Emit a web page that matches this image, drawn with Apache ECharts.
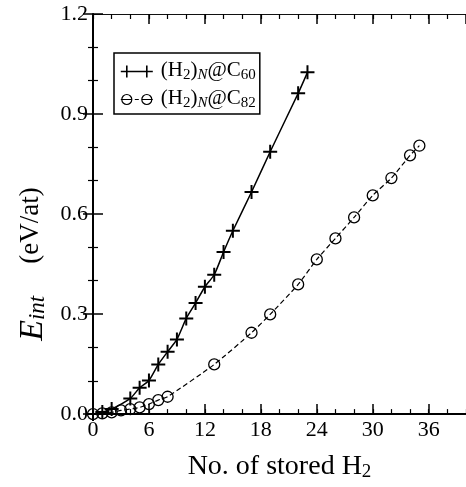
<!DOCTYPE html>
<html>
<head>
<meta charset="utf-8">
<script src="https://cdn.jsdelivr.net/npm/echarts@6/dist/echarts.min.js"></script>
<style>
html,body{margin:0;padding:0;background:#fff;}
#c{width:466px;height:487px;}
</style>
</head>
<body>
<div id="c"></div>
<script>
// ---- data ----
const xC60 = [0, 1, 2, 4, 5, 6, 7, 8, 9, 10, 11, 12, 13, 14, 15, 17, 19, 22, 23];
const yC60 = [0, 0.006, 0.015, 0.047, 0.079, 0.101, 0.149, 0.187, 0.224, 0.287, 0.333, 0.382, 0.418, 0.486, 0.550, 0.666, 0.787, 0.962, 1.025];
const xC82 = [0, 1, 2, 3, 4, 5, 6, 7, 8, 13, 17, 19, 22, 24, 26, 28, 30, 32, 34, 35];
const yC82 = [0, 0.002, 0.005, 0.011, 0.015, 0.020, 0.030, 0.042, 0.052, 0.149, 0.244, 0.299, 0.389, 0.464, 0.527, 0.590, 0.656, 0.708, 0.776, 0.805];
const seriesNames = ['C60', 'C82'];
const xTicks = [0, 6, 12, 18, 24, 30, 36];
const yTicks = [0.0, 0.3, 0.6, 0.9, 1.2];

const FONT = 'Liberation Serif';
const chart = echarts.init(document.getElementById('c'), null, {renderer: 'canvas'});

const pairs = (xs, ys) => xs.map((x, i) => [x, ys[i]]);
const PLUS = 'path://M0,7L14,7M7,0L7,14';
const ICON_C60 = 'path://M0,6L32,6M6,0L6,12M26,0L26,12';
const ICON_C82 = 'path://M1,6A5,5 0 1 1 11,6A5,5 0 1 1 1,6M21,6A5,5 0 1 1 31,6A5,5 0 1 1 21,6M0,6L11,6M14,6L18,6M21,6L32,6';

const axisBase = {type: 'value', min: 0, max: 40, splitLine: {show: false}};

const legendRich = {
  b: {fontFamily: FONT, fontSize: 21, color: '#000', verticalAlign: 'top', lineHeight: 23},
  s: {fontFamily: FONT, fontSize: 15, color: '#000', verticalAlign: 'bottom', lineHeight: 15, padding: [11, 0, 0, 0]},
  si: {fontFamily: FONT, fontSize: 15, fontStyle: 'italic', color: '#000', verticalAlign: 'bottom', lineHeight: 15, padding: [11, 0, 0, 0]},
  p: {fontFamily: FONT, fontSize: 21, color: '#000', verticalAlign: 'top', lineHeight: 23, padding: [0, 0, 0, 3]}
};

chart.setOption({
  animation: false,
  backgroundColor: '#fff',
  grid: {left: 93, top: 14, width: 375, height: 413, containLabel: false},
  legend: {
    orient: 'vertical', left: 114, top: 53,
    data: [
      {name: seriesNames[0], icon: ICON_C60, itemStyle: {color: 'rgba(0,0,0,0)', borderColor: '#000', borderWidth: 1.6}},
      {name: seriesNames[1], icon: ICON_C82, itemStyle: {color: 'rgba(0,0,0,0)', borderColor: '#000', borderWidth: 1.2}}
    ],
    itemWidth: 32, itemHeight: 12, itemGap: 2,
    borderColor: '#000', borderWidth: 1.5, borderRadius: 0,
    padding: [4, 4, 3, 6],
    formatter: function (name) {
      return '{p|(H}{s|2}{b|)}{si|N}{b|@C}{s|' + name.slice(1) + '}';
    },
    textStyle: {rich: legendRich}
  },
  xAxis: [
    Object.assign({}, axisBase, {
      position: 'bottom', interval: 6,
      axisLine: {show: true, lineStyle: {color: '#000', width: 2}},
      axisTick: {show: true, inside: true, length: 10, lineStyle: {color: '#000', width: 1.5}},
      axisLabel: {show: true, fontFamily: FONT, fontSize: 22, color: '#000', margin: 5, showMaxLabel: false,
        formatter: v => (xTicks.indexOf(v) >= 0 ? String(v) : '')},
      name: '{b|No. of stored H}{s|2}',
      nameLocation: 'middle', nameGap: 22,
      nameTextStyle: {rich: {
        b: {fontFamily: FONT, fontSize: 28, color: '#000', verticalAlign: 'top', lineHeight: 29},
        s: {fontFamily: FONT, fontSize: 19, color: '#000', verticalAlign: 'bottom', lineHeight: 19, padding: [17, 0, 0, 0]}
      }}
    }),
    Object.assign({}, axisBase, {
      position: 'bottom', interval: 2,
      axisLine: {show: false},
      axisTick: {show: true, inside: true, length: 5, lineStyle: {color: '#000', width: 1.2}},
      axisLabel: {show: false}
    }),
    Object.assign({}, axisBase, {
      position: 'top', interval: 6,
      axisLine: {show: true, lineStyle: {color: '#111', width: 1}},
      axisTick: {show: true, inside: true, length: 10, lineStyle: {color: '#000', width: 1.5}},
      axisLabel: {show: false}
    }),
    Object.assign({}, axisBase, {
      position: 'top', interval: 2,
      axisLine: {show: false},
      axisTick: {show: true, inside: true, length: 5, lineStyle: {color: '#000', width: 1.2}},
      axisLabel: {show: false}
    })
  ],
  yAxis: [
    {
      type: 'value', min: 0, max: 1.2, interval: 0.3, position: 'left',
      splitLine: {show: false},
      axisLine: {show: true, lineStyle: {color: '#000', width: 2}},
      axisTick: {show: true, inside: true, length: 10, lineStyle: {color: '#000', width: 1.5}},
      minorTick: {show: true, splitNumber: 3, length: 5, lineStyle: {color: '#000', width: 1.2}},
      axisLabel: {fontFamily: FONT, fontSize: 22, color: '#000', margin: 5,
        formatter: v => v.toFixed(1)},
      name: '{e|E}{i|int}{t|(eV/at)}',
      nameLocation: 'middle', nameGap: 36, nameRotate: 90,
      nameTextStyle: {rich: {
        e: {fontFamily: FONT, fontSize: 34, fontStyle: 'italic', color: '#000', verticalAlign: 'top', lineHeight: 34},
        i: {fontFamily: FONT, fontSize: 23, fontStyle: 'italic', color: '#000', verticalAlign: 'bottom', lineHeight: 23, padding: [15, 0, 0, 0]},
        t: {fontFamily: FONT, fontSize: 27, color: '#000', verticalAlign: 'top', lineHeight: 34, padding: [2, 100, 0, 32]}
      }}
    },
    {
      type: 'value', min: 0, max: 1.2, interval: 0.3, position: 'right',
      splitLine: {show: false},
      axisLine: {show: true, lineStyle: {color: '#000', width: 1}},
      axisTick: {show: true, inside: true, length: 10, lineStyle: {color: '#000', width: 1.5}},
      minorTick: {show: true, splitNumber: 3, length: 5, lineStyle: {color: '#000', width: 1.2}},
      axisLabel: {show: false}
    }
  ],
  series: [
    {
      name: seriesNames[0], type: 'line', xAxisIndex: 0, yAxisIndex: 0,
      data: pairs(xC60, yC60),
      smooth: 0.2,
      symbol: PLUS, symbolSize: 14,
      itemStyle: {color: '#000', borderColor: '#000', borderWidth: 2},
      lineStyle: {color: '#000', width: 1.5, type: 'solid'},
      z: 3
    },
    {
      name: seriesNames[1], type: 'line', xAxisIndex: 0, yAxisIndex: 0,
      data: pairs(xC82, yC82),
      smooth: 0.2,
      symbol: 'circle', symbolSize: 11,
      itemStyle: {color: 'rgba(0,0,0,0)', borderColor: '#000', borderWidth: 1.3},
      lineStyle: {color: '#000', width: 1.2, type: [5, 3]},
      z: 2
    }
  ]
});
</script>
</body>
</html>
